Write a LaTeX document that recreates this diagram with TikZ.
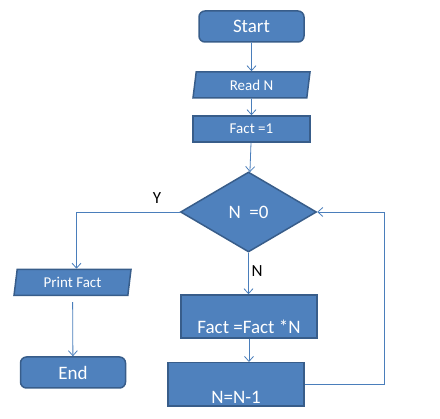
\documentclass[tikz,border=0pt]{standalone}
\usepackage{fontspec}
\setmainfont{Carlito}
\usetikzlibrary{shapes.geometric,arrows.meta}
\definecolor{boxfill}{HTML}{4F81BD}
\definecolor{boxline}{HTML}{385D8A}
\definecolor{flowline}{HTML}{4A7EBB}
\begin{document}
\begin{tikzpicture}[x=1pt,y=1pt]
\tikzstyle{every node}+=[inner sep=0pt]
\tikzstyle{blk}=[draw=boxline,fill=boxfill,line width=1.5pt,text=white]
\tikzstyle{term}=[blk,rounded corners=6pt,minimum width=105,minimum height=31,font=\fontsize{19}{22}\selectfont]
\tikzstyle{io}=[blk,trapezium,trapezium left angle=73,trapezium right angle=107,trapezium stretches body,minimum width=117,minimum height=26,font=\fontsize{15}{18}\selectfont]
\tikzstyle{proc}=[blk,minimum width=117,minimum height=26,font=\fontsize{15}{18}\selectfont]
\tikzstyle{bigproc}=[blk,minimum width=136,font=\fontsize{19}{22}\selectfont]
\tikzstyle{dec}=[blk,diamond,minimum width=136,minimum height=80,font=\fontsize{19}{22}\selectfont]
\tikzstyle{lab}=[font=\fontsize{17}{20}\selectfont]
\tikzstyle{flow}=[draw=flowline,line width=0.8pt,-{Straight Barb[length=5pt,width=9pt]}]
\useasboundingbox (0,0) rectangle (440,-419);
% blocks
\node[term] (start) at (251.5,-26.5) {Start};
\node[io] (read) at (251.5,-85) {Read N};
\node[proc] (init) at (251.5,-129) {Fact =1};
\node[dec] (test) at (248.5,-212) {N\ \ =0};
\node[io] (out) at (72.5,-282.5) {Print Fact};
\node[term] (stop) at (73,-372.5) {End};
\node[bigproc,text height=39pt,text depth=4pt] (mult) at (249,-316.5) {Fact =Fact *N};
\node[bigproc,text height=40.5pt,text depth=3pt] (decr) at (236,-384.5) {N=N-1};
% branch labels
\node[lab] (ylab) at (157,-198) {Y};
\node[lab] (nlab) at (257,-271) {N};
% connectors
\draw[flow] (start) -- (read);
\draw[flow] (read) -- (init);
\draw[flow] (init) -- (test);
\draw[flow] (test.west) -| ([xshift=4pt]out.north);
\draw[flow,shorten <=6pt] (out) -- (stop);
\draw[flow] (test.south) -- (test.south |- mult.north);
\draw[flow] (mult.south) -- (mult.south |- decr.north);
\draw[flow] (decr.east) -- ++(80,0) |- (test.east);
\end{tikzpicture}
\end{document}
